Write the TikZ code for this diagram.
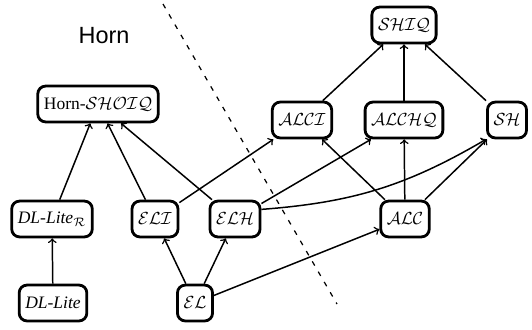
\documentclass[tikz,border=0pt]{standalone}
\usepackage{fontspec}
\setmainfont{Liberation Serif}
\newfontfamily\hornfont{Liberation Sans}
\begin{document}
\begin{tikzpicture}[x=0.5714pt,y=-0.5714pt,
  lbox/.style={draw,line width=1.6pt,rounded corners=4.5pt,minimum height=20.5pt,inner xsep=3.5pt,fill=white},
  edge/.style={->,line width=0.85pt},
  sep/.style={line width=0.7pt,dash pattern=on 2.8pt off 4pt}]
\useasboundingbox (0,0) rectangle (532,329);
% separator
\coordinate (s1) at (163,4);
\coordinate (s2) at (337,304);
\draw[sep] (s1) -- (s2);
\node[font=\hornfont\fontsize{13.4}{16}\selectfont] (hornlbl) at (104,36) {Horn};
% nodes
\node[lbox] (shiq) at (404,25) {$\mathcal{SHIQ}$};
\node[lbox] (alci) at (302,120) {$\mathcal{ALCI}$};
\node[lbox] (alchq) at (404,120) {$\mathcal{ALCHQ}$};
\node[lbox] (sh) at (507,120) {$\mathcal{SH}$};
\node[lbox] (horn) at (98,104) {Horn-$\mathcal{SHOIQ}$};
\node[lbox] (dlr) at (52,219) {\textit{DL-Lite}$_{\mathcal{R}}$};
\node[lbox] (eli) at (155,219) {$\mathcal{ELI}$};
\node[lbox] (elh) at (235,219) {$\mathcal{ELH}$};
\node[lbox] (alc) at (405,219) {$\mathcal{ALC}$};
\node[lbox] (dl) at (53,303) {\textit{DL-Lite}};
\node[lbox] (el) at (195,303) {$\mathcal{EL}$};
% edges
\draw[edge] (alci) -- (shiq);
\draw[edge] (alchq) -- (shiq);
\draw[edge] (sh) -- (shiq);
\draw[edge] (dl) -- (dlr);
\draw[edge] (dlr) -- (horn);
\draw[edge] (eli) -- (horn);
\draw[edge] (elh) -- (horn);
\draw[edge] (eli) -- (alci);
\draw[edge] (elh) -- (alchq);
\draw[edge] (elh.20) to[bend right=13] (sh.south west);
\draw[edge] (el) -- (eli);
\draw[edge] (el) -- (elh);
\draw[edge] (el) -- (alc);
\draw[edge] (alc) -- (alci);
\draw[edge] (alc) -- (alchq);
\draw[edge] (alc) -- (sh);
\end{tikzpicture}
\end{document}
